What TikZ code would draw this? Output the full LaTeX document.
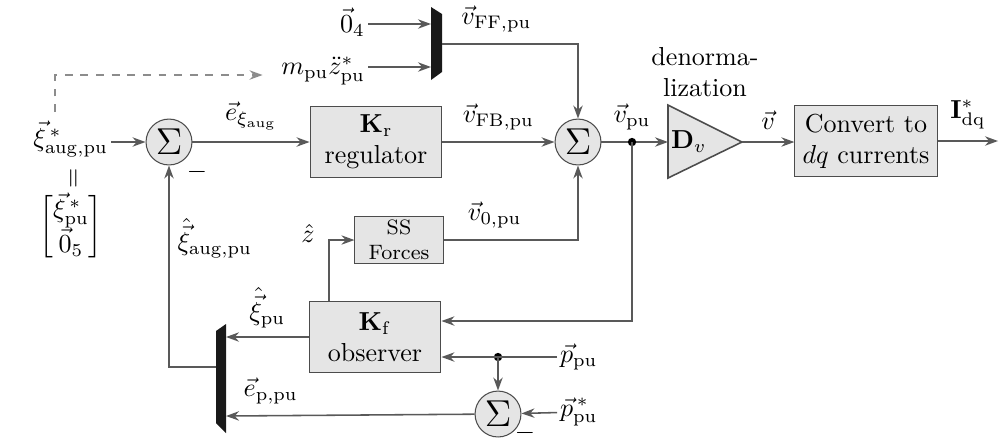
\documentclass[tikz,border=0pt]{standalone}
\usepackage{amsmath,amssymb}
\usepackage{tikz}
\usetikzlibrary{arrows.meta}

\begin{document}
\begin{tikzpicture}[
  x=0.0135cm, y=-0.0135cm,
  >={Stealth[length=5pt,width=3.6pt]},
  every node/.style={font=\normalsize},
  blk/.style={draw=black!70, fill=black!10, align=center, inner sep=0pt},
  sumnode/.style={draw=black!70, fill=black!10, circle, minimum size=0.62cm, inner sep=0pt},
  wire/.style={draw=black!65, semithick},
  sig/.style={wire,->}
]

\useasboundingbox (0,0) rectangle (1005,441);

% --- Summation points ---
\node[sumnode] (sumA) at (169,142) {\Large$\Sigma$};
\node[sumnode] (sumB) at (578,142) {\Large$\Sigma$};
\node[sumnode] (sumC) at (498,414) {\Large$\Sigma$};

% --- Blocks ---
\node[blk, minimum width=1.78cm, minimum height=0.97cm] (reg) at (376,142) {$\mathbf{K}_{\mathrm{r}}$\\regulator};
\node[blk, minimum width=1.78cm, minimum height=0.96cm] (obs) at (375,337) {$\mathbf{K}_{\mathrm{f}}$\\observer};
\node[blk, minimum width=1.92cm, minimum height=0.97cm] (conv) at (866,141) {Convert to\\$dq$ currents};
\node[blk, font=\footnotesize, minimum width=1.19cm, minimum height=0.63cm] (ss) at (399,240) {SS\\Forces};

% --- Denormalization gain ---
\filldraw[draw=black!70, fill=black!10, semithick] (668,105) -- (742,142) -- (668,178) -- cycle;
\coordinate (gainin) at (668,142);
\coordinate (gainout) at (742,142);
\node[right, inner sep=1pt] (gainlbl) at (668,142) {$\mathbf{D}_v$};
\node[align=center] (denorm) at (705,72) {denorma-\\lization};

% --- Multiplexers ---
\fill[black!90] (431,7) -- (442,14) -- (442,72) -- (431,80) -- cycle;
\coordinate (muxAin1) at (431,24);
\coordinate (muxAin2) at (431,67);
\coordinate (muxAout) at (442,44);
\fill[black!90] (216,331) -- (226,324) -- (226,433) -- (216,423) -- cycle;
\coordinate (muxBin1) at (226,337);
\coordinate (muxBin2) at (226,416);
\coordinate (muxBout) at (216,367);

% --- Inputs and outputs ---
\node[left, inner sep=1pt] (xiref) at (111,139) {$\vec{\xi}^{\,*}_{\mathrm{aug,pu}}$};
\node[rotate=90] (eqsign) at (75,178) {$=$};
\node (xivec) at (71,227) {$\begin{bmatrix}\vec{\xi}^{\,*}_{\mathrm{pu}}\\ \vec{0}_5\end{bmatrix}$};
\node[left, inner sep=1pt] (zero4) at (368,22) {$\vec{0}_4$};
\node[left, inner sep=1pt] (mzdd) at (368,71) {$m_{\mathrm{pu}}\ddot{z}^*_{\mathrm{pu}}$};
\node[right, inner sep=1pt] (ppu) at (557,357) {$\vec{p}_{\mathrm{pu}}$};
\node[right, inner sep=1pt] (ppuref) at (557,412) {$\vec{p}^{\,*}_{\mathrm{pu}}$};
\coordinate (iout) at (998,141);
\coordinate (dashstart) at (55,112);
\coordinate (dashcorner) at (55,75);
\coordinate (ztap) at (329,0);
\coordinate (obsin) at (0,321);

% --- Forward path ---
\draw[sig] (xiref.east |- sumA) -- (sumA);
\draw[sig] (sumA) -- node[above=1pt] {$\vec{e}_{\xi_{\mathrm{aug}}}$} (reg);
\draw[sig] (reg) -- node[above=1pt] {$\vec{v}_{\mathrm{FB,pu}}$} (sumB);
\draw[sig] (sumB) -- (gainin);
\draw[sig] (gainout) -- node[above=1pt] {$\vec{v}$} (conv.west |- gainout);
\draw[sig] (conv.east |- iout) -- node[above=1pt] {$\mathbf{I}^*_{\mathrm{dq}}$} (iout);

% --- Feedforward ---
\draw[wire, dashed, black!45, ->] (dashstart) -- (dashcorner) -- ([xshift=-6pt]dashcorner -| mzdd.west);
\draw[sig] (zero4.east |- muxAin1) -- (muxAin1);
\draw[sig] (mzdd.east |- muxAin2) -- (muxAin2);
\draw[sig] (muxAout) -| node[pos=0.2, above=1pt] {$\vec{v}_{\mathrm{FF,pu}}$} (sumB.north);
\draw[sig] (ss) -| node[pos=0.19, above=1pt] {$\vec{v}_{0,\mathrm{pu}}$} (sumB.south);

% --- Observer ---
\coordinate (vpu) at (632,142);
\fill (vpu) circle (1.6pt);
\node[above=1pt] at (vpu) {$\vec{v}_{\mathrm{pu}}$};
\draw[sig] (vpu) |- (obs.east |- obsin);
\coordinate (ptap) at (498,357);
\fill (ptap) circle (1.6pt);
\draw[sig] (ppu) -- (obs.east |- ppu);
\draw[sig] (ptap) -- (sumC);
\draw[sig] (ppuref) -- (sumC);
\node (minusC) at (525,433) {$-$};
\draw[sig] (obs.north -| ztap) |- (ss.west);
\node (zhat) at (308,233) {$\hat{z}$};
\draw[sig] (obs.west |- muxBin1) -- node[above=0pt] {$\hat{\vec{\xi}}_{\mathrm{pu}}$} (muxBin1);
\draw[sig] (sumC) -- node[pos=0.82, above=1pt] {$\vec{e}_{\mathrm{p,pu}}$} (muxBin2);
\draw[sig] (muxBout) -| (sumA.south);
\node[right, inner sep=0pt] (xihat) at (177,238) {$\hat{\vec{\xi}}_{\mathrm{aug,pu}}$};
\node (minusA) at (197,172) {$-$};

\end{tikzpicture}
\end{document}
